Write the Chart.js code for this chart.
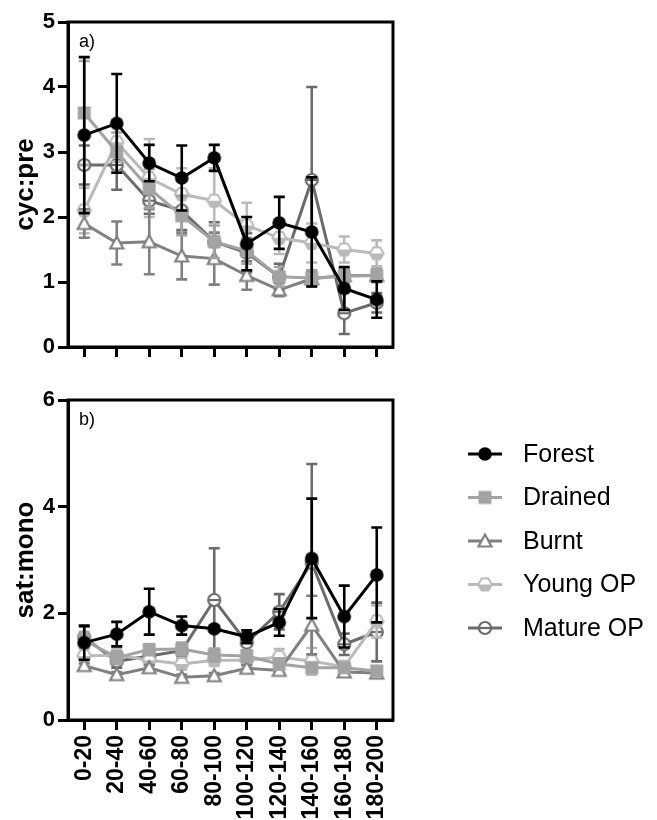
<!DOCTYPE html>
<html>
<head>
<meta charset="utf-8">
<script src="https://cdn.jsdelivr.net/npm/chart.js@4/dist/chart.umd.min.js"></script>
<style>
  html, body { margin: 0; padding: 0; background: #fff; }
  #wrap { position: relative; width: 657px; height: 820px; overflow: hidden; }
  canvas { position: absolute; left: 0; }
  #top { top: 0; }
  #bot { top: 380px; }
</style>
</head>
<body>
<div id="wrap">
  <canvas id="top" width="657" height="380"></canvas>
  <canvas id="bot" width="657" height="440"></canvas>
</div>
<script>
// ---------- data ----------
const categories = ['0-20','20-40','40-60','60-80','80-100','100-120','120-140','140-160','160-180','180-200'];
const seriesNames = ['Forest','Drained','Burnt','Young OP','Mature OP'];

// panel a) cyc:pre
const forestCyc     = [3.26, 3.44, 2.83, 2.60, 2.91, 1.59, 1.91, 1.77, 0.90, 0.73];
const forestCycErr  = [1.20, 0.76, 0.28, 0.50, 0.20, 0.41, 0.40, 0.84, 0.33, 0.28];
const drainedCyc    = [3.60, 3.00, 2.44, 2.02, 1.62, 1.48, 1.08, 1.06, 1.09, 1.10];
const drainedCycErr = [0.80, 0.30, 0.30, 0.30, 0.25, 0.20, 0.15, 0.12, 0.10, 0.10];
const burntCyc      = [1.90, 1.60, 1.62, 1.40, 1.36, 1.10, 0.88, 1.05, 1.10, 1.10];
const burntCycErr   = [0.22, 0.33, 0.50, 0.36, 0.40, 0.22, 0.10, 0.12, 0.10, 0.10];
const youngCyc      = [2.10, 3.15, 2.60, 2.35, 2.25, 1.87, 1.68, 1.60, 1.50, 1.44];
const youngCycErr   = [0.35, 0.30, 0.60, 0.40, 0.50, 0.35, 0.25, 0.30, 0.20, 0.20];
const matureCyc     = [2.80, 2.80, 2.25, 2.10, 1.62, 1.45, 1.08, 2.57, 0.52, 0.68];
const matureCycErr  = [0.30, 0.38, 0.20, 0.30, 0.30, 0.30, 0.20, 1.43, 0.32, 0.15];

// panel b) sat:mono
const forestSat     = [1.45, 1.61, 2.03, 1.77, 1.71, 1.56, 1.83, 3.03, 1.94, 2.72];
const forestSatErr  = [0.32, 0.23, 0.43, 0.17, 0.04, 0.12, 0.25, 1.12, 0.58, 0.89];
const drainedSat    = [1.50, 1.17, 1.32, 1.33, 1.22, 1.20, 1.05, 0.98, 0.98, 0.92];
const drainedSatErr = [0.15, 0.12, 0.10, 0.12, 0.12, 0.10, 0.10, 0.08, 0.05, 0.05];
const burntSat      = [1.02, 0.85, 0.98, 0.80, 0.83, 0.97, 0.93, 1.78, 0.90, 0.88];
const burntSatErr   = [0.05, 0.05, 0.05, 0.05, 0.05, 0.06, 0.05, 0.55, 0.05, 0.05];
const youngSat      = [1.20, 1.22, 1.12, 1.05, 1.12, 1.12, 1.18, 1.10, 1.00, 1.85];
const youngSatErr   = [0.15, 0.12, 0.10, 0.10, 0.10, 0.10, 0.15, 0.25, 0.10, 0.30];
const matureSat     = [1.55, 1.10, 1.20, 1.30, 2.25, 1.45, 2.03, 2.95, 1.42, 1.65];
const matureSatErr  = [0.20, 0.12, 0.10, 0.12, 0.97, 0.15, 0.33, 1.85, 0.20, 0.55];

const yTicksCyc = [0, 1, 2, 3, 4, 5];
const yTicksSat = [0, 2, 4, 6];

// ---------- styles ----------
const FONT = "'Liberation Sans', Arial, Helvetica, sans-serif";
const colors = ['#000000', '#a3a3a3', '#808080', '#bababa', '#6b6b6b'];

function mk(size) { const c = document.createElement('canvas'); c.width = size; c.height = size; return c; }
function markerForest() {
  const c = mk(16), g = c.getContext('2d');
  g.fillStyle = colors[0]; g.beginPath(); g.arc(8, 8, 6.8, 0, Math.PI * 2); g.fill();
  return c;
}
function markerDrained() {
  const c = mk(16), g = c.getContext('2d');
  g.fillStyle = colors[1]; g.fillRect(1.5, 1.5, 13, 13);
  return c;
}
function markerBurnt() {
  const c = mk(18), g = c.getContext('2d');
  g.fillStyle = '#fff'; g.strokeStyle = colors[2]; g.lineWidth = 2.2; g.lineJoin = 'miter';
  g.beginPath(); g.moveTo(9, 2.5); g.lineTo(15.5, 14.5); g.lineTo(2.5, 14.5); g.closePath();
  g.fill(); g.stroke();
  return c;
}
function hexPath(g, cx, cy, r) {
  g.beginPath();
  for (let i = 0; i < 6; i++) {
    const a = Math.PI / 3 * i;
    const x = cx + r * Math.cos(a), y = cy + r * Math.sin(a);
    if (i === 0) g.moveTo(x, y); else g.lineTo(x, y);
  }
  g.closePath();
}
function markerYoung() {
  const c = mk(18), g = c.getContext('2d');
  hexPath(g, 9, 9, 6.8); g.fillStyle = '#fff'; g.fill();
  g.save(); hexPath(g, 9, 9, 6.8); g.clip(); g.fillStyle = colors[3]; g.fillRect(0, 9, 18, 9); g.restore();
  hexPath(g, 9, 9, 6.8); g.strokeStyle = colors[3]; g.lineWidth = 2; g.stroke();
  return c;
}
function markerMature() {
  const c = mk(18), g = c.getContext('2d');
  g.fillStyle = '#fff'; g.strokeStyle = colors[4]; g.lineWidth = 2.2;
  g.beginPath(); g.arc(9, 9, 6, 0, Math.PI * 2); g.fill(); g.stroke();
  g.beginPath(); g.moveTo(3, 9); g.lineTo(15, 9); g.stroke();
  return c;
}
const markers = [markerForest(), markerDrained(), markerBurnt(), markerYoung(), markerMature()];

function ds(i, data, err) {
  return {
    label: seriesNames[i], data: data, errors: err,
    borderColor: colors[i], backgroundColor: colors[i], borderWidth: 3,
    pointStyle: markers[i], pointRadius: 7, tension: 0, fill: false
  };
}

// ---------- plugins ----------
const errorBars = {
  id: 'errorBars',
  beforeDatasetDraw(chart, args) {
    const dset = chart.data.datasets[args.index];
    if (!dset.errors) return;
    const meta = chart.getDatasetMeta(args.index);
    const ys = chart.scales.y, ctx = chart.ctx;
    ctx.save();
    ctx.strokeStyle = dset.borderColor; ctx.lineWidth = 2.6; ctx.lineCap = 'butt';
    meta.data.forEach((pt, j) => {
      const v = dset.data[j], e = dset.errors[j];
      if (!e) return;
      const yHi = ys.getPixelForValue(v + e), yLo = ys.getPixelForValue(v - e);
      const x = pt.x, w = 5.5;
      ctx.beginPath();
      ctx.moveTo(x, yHi); ctx.lineTo(x, yLo);
      ctx.moveTo(x - w, yHi); ctx.lineTo(x + w, yHi);
      ctx.moveTo(x - w, yLo); ctx.lineTo(x + w, yLo);
      ctx.stroke();
    });
    ctx.restore();
  }
};

const frame = {
  id: 'frame',
  afterDraw(chart, args, opts) {
    const a = chart.chartArea, ctx = chart.ctx;
    ctx.save();
    ctx.strokeStyle = '#000'; ctx.lineWidth = 3;
    ctx.strokeRect(a.left, a.top, a.right - a.left, a.bottom - a.top);
    ctx.fillStyle = '#000';
    ctx.font = '18px ' + FONT; ctx.textBaseline = 'middle'; ctx.textAlign = 'left';
    ctx.fillText(opts.label, a.left + 11, a.top + 20);
    ctx.restore();
  }
};

const sideLegend = {
  id: 'sideLegend',
  afterDraw(chart, args, opts) {
    if (!opts.show) return;
    const ctx = chart.ctx;
    ctx.save();
    chart.data.datasets.forEach((d, i) => {
      const y = opts.y0 + i * opts.dy;
      ctx.strokeStyle = d.borderColor; ctx.lineWidth = 3;
      ctx.beginPath(); ctx.moveTo(opts.x0, y); ctx.lineTo(opts.x0 + 34, y); ctx.stroke();
      const m = d.pointStyle;
      ctx.drawImage(m, opts.x0 + 17 - m.width / 2, y - m.height / 2);
      ctx.fillStyle = '#000'; ctx.font = '25px ' + FONT;
      ctx.textAlign = 'left'; ctx.textBaseline = 'middle';
      ctx.fillText(d.label, opts.x0 + 55, y + 1);
    });
    ctx.restore();
  }
};

function makeChart(id, datasets, yTicks, yTitle, showX, xHeight, padTop, label, legend) {
  const yFont = { family: FONT, size: 22, weight: 'bold' };
  const xFont = { family: FONT, size: 23, weight: 'bold' };
  return new Chart(document.getElementById(id), {
    type: 'line',
    data: { labels: categories, datasets: datasets },
    plugins: [errorBars, frame, sideLegend],
    options: {
      responsive: false, animation: false, devicePixelRatio: 1, events: [],
      layout: { padding: { top: padTop, right: 264, left: 0, bottom: 0 } },
      plugins: {
        legend: { display: false }, tooltip: { enabled: false },
        frame: { label: label },
        sideLegend: legend
      },
      scales: {
        x: {
          type: 'category', offset: true,
          grid: { display: true, drawOnChartArea: false, drawTicks: true, tickLength: 10, tickWidth: 3, tickColor: '#000', offset: false },
          border: { display: true, color: '#000', width: 3 },
          ticks: { display: showX, color: '#000', font: xFont, minRotation: 90, maxRotation: 90, autoSkip: false, padding: 5 },
          afterFit: s => { s.height = xHeight; }
        },
        y: {
          min: yTicks[0], max: yTicks[yTicks.length - 1],
          afterBuildTicks: s => { s.ticks = yTicks.map(v => ({ value: v })); },
          grid: { display: true, drawOnChartArea: false, drawTicks: true, tickLength: 10, tickWidth: 3, tickColor: '#000' },
          border: { display: true, color: '#000', width: 3 },
          ticks: { color: '#000', font: yFont, padding: 3 },
          title: { display: true, text: yTitle, color: '#000', font: { family: FONT, size: 26, weight: 'bold' }, padding: { top: 10, bottom: 0 } },
          afterFit: s => { s.width = 68; }
        }
      }
    }
  });
}

makeChart('top', [
  ds(0, forestCyc, forestCycErr), ds(1, drainedCyc, drainedCycErr), ds(2, burntCyc, burntCycErr),
  ds(3, youngCyc, youngCycErr), ds(4, matureCyc, matureCycErr)
], yTicksCyc, 'cyc:pre', false, 33, 22, 'a)', { show: false });

makeChart('bot', [
  ds(0, forestSat, forestSatErr), ds(1, drainedSat, drainedSatErr), ds(2, burntSat, burntSatErr),
  ds(3, youngSat, youngSatErr), ds(4, matureSat, matureSatErr)
], yTicksSat, 'sat:mono', true, 100, 20, 'b)', { show: true, x0: 468, y0: 74, dy: 43.5 });
</script>
</body>
</html>
